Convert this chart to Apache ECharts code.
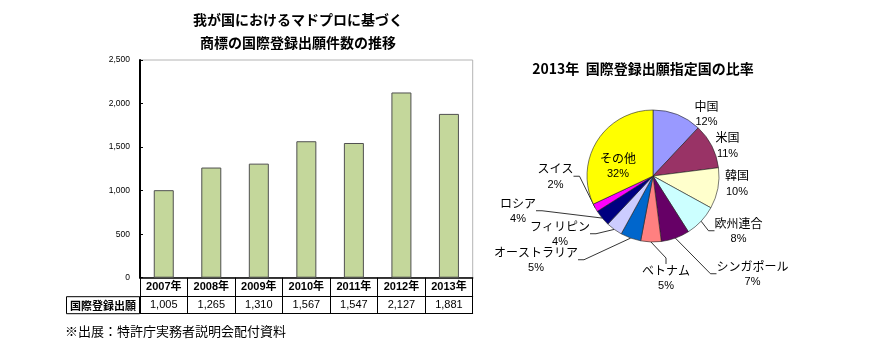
<!DOCTYPE html>
<html><head><meta charset="utf-8">
<script src="https://cdn.jsdelivr.net/npm/echarts@6/dist/echarts.min.js"></script>
<style>html,body{margin:0;padding:0;background:#fff}#c{width:896px;height:350px}</style>
</head><body><div id="c"></div>
<script>
// ---- data ----
const years = ['2007年','2008年','2009年','2010年','2011年','2012年','2013年'];
const applications = [1005, 1265, 1310, 1567, 1547, 2127, 1881];
const countries = ['中国','米国','韓国','欧州連合','シンガポール','ベトナム','オーストラリア','フィリピン','ロシア','スイス','その他'];
const shares = [12, 11, 10, 8, 7, 5, 5, 4, 4, 2, 32];

// ---- styles / layout ----
const sliceColors = ['#9999FF','#993366','#FFFFCC','#CCFFFF','#660066','#FF8080','#0066CC','#CCCCFF','#000080','#FF00FF','#FFFF00'];
const withLeader = [false,false,false,true,true,true,true,true,true,true,false];
const PIE_C = [653, 176], PIE_R = 66;
const labelOffsets = [[53.5,-62],[74.5,-30.5],[84,7.5],[85.5,55],[99.5,98],[13,102],[-117,84],[-93,58],[-135,35],[-97.5,0.5],[-35,-10]];
const JP = '"Noto Sans CJK JP", sans-serif';
const NUM = '"Liberation Sans", Arial, "Noto Sans CJK JP", sans-serif';
const fmt = v => Number(v).toLocaleString('en-US');

const chart = echarts.init(document.getElementById('c'), null, {renderer: 'canvas'});
chart.setOption({
  animation: false,
  grid: {left: 140, right: 423.3, top: 60, bottom: 72.3, show: true, borderColor: '#b4b4b4', borderWidth: 1,
         backgroundColor: 'transparent', containLabel: false, outerBoundsMode: 'none'},
  xAxis: [
    {type: 'category', data: years, position: 'bottom',
     axisLine: {lineStyle: {color: '#000', width: 1.5}},
     axisTick: {show: true, interval: 0, length: 36, lineStyle: {color: '#000', width: 1}},
     axisLabel: {interval: 0, fontSize: 11, fontWeight: 'bold', color: '#000', fontFamily: NUM, margin: 4}},
    {type: 'category', data: applications.map(fmt), position: 'bottom', offset: 19,
     axisLine: {lineStyle: {color: '#000', width: 1}}, axisTick: {show: false},
     axisLabel: {interval: 0, fontSize: 11, color: '#000', fontFamily: NUM, margin: 3}},
    {type: 'category', data: years, position: 'bottom', offset: 36,
     axisLine: {lineStyle: {color: '#000', width: 1}}, axisTick: {show: false}, axisLabel: {show: false}}
  ],
  yAxis: {type: 'value', min: 0, max: 2500, interval: 500,
    axisLine: {show: true, lineStyle: {color: '#000', width: 2}},
    axisTick: {show: true, inside: true, length: 3, lineStyle: {color: '#000'}},
    splitLine: {show: false},
    axisLabel: {fontSize: 8.5, color: '#000', fontFamily: NUM, margin: 10, formatter: v => fmt(v)}},
  series: [
    {type: 'bar', data: applications, barWidth: 20, xAxisIndex: 0,
     itemStyle: {color: '#C4D79B', borderColor: '#505050', borderWidth: 1}},
    {type: 'pie', center: PIE_C, radius: PIE_R, startAngle: 90, clockwise: true, avoidLabelOverlap: false,
     itemStyle: {borderColor: '#222', borderWidth: 0.6},
     label: {show: true, position: 'outside', formatter: '{n|{b}}\n{p|{c}%}', color: '#000',
       rich: {n: {fontSize: 12, fontFamily: JP, lineHeight: 16, align: 'center', color: '#000'},
              p: {fontSize: 11, fontFamily: NUM, lineHeight: 16, align: 'center', color: '#000'}}},
     labelLine: {show: true, length: 10, length2: 6, lineStyle: {color: '#000', width: 0.8}},
     labelLayout: p => { const o = labelOffsets[p.dataIndex]; return {x: PIE_C[0] + o[0], y: PIE_C[1] + o[1], align: 'center', verticalAlign: 'middle'}; },
     emphasis: {disabled: true},
     data: countries.map((n, i) => ({name: n, value: shares[i], itemStyle: {color: sliceColors[i]}, labelLine: {show: withLeader[i]}}))}
  ],
  graphic: [
    {type: 'text', x: 298, y: 8.5, style: {text: '我が国におけるマドプロに基づく\n商標の国際登録出願件数の推移', font: 'bold 14px ' + JP, fill: '#000', align: 'center', verticalAlign: 'top', lineHeight: 23}},
    {type: 'text', x: 643, y: 69, style: {text: '2013年  国際登録出願指定国の比率', font: 'bold 14px ' + JP, fill: '#000', align: 'center', verticalAlign: 'middle'}},
    {type: 'rect', shape: {x: 66.5, y: 296.7, width: 73, height: 17}, style: {fill: 'none', stroke: '#000', lineWidth: 1}},
    {type: 'text', x: 103, y: 305.5, style: {text: '国際登録出願', font: 'bold 11px ' + JP, fill: '#000', align: 'center', verticalAlign: 'middle'}},
    {type: 'text', x: 65, y: 331, style: {text: '※出展：特許庁実務者説明会配付資料', font: '13px ' + JP, fill: '#000', align: 'left', verticalAlign: 'middle'}}
  ]
});
</script>
</body></html>
